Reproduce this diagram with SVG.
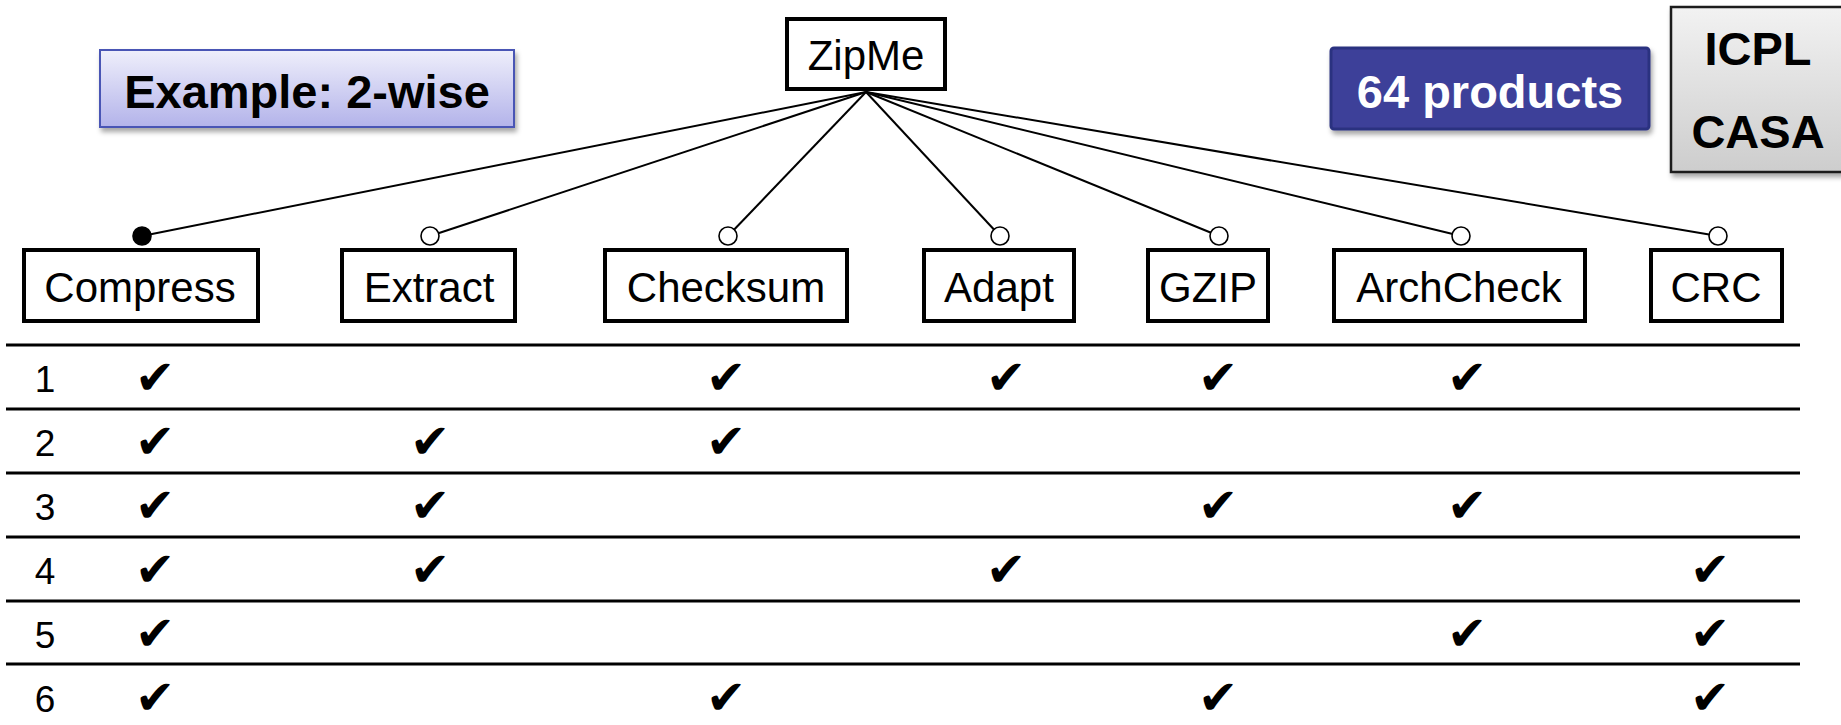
<svg xmlns="http://www.w3.org/2000/svg" width="1841" height="725" viewBox="0 0 1841 725">
<defs>
<linearGradient id="gBlue" x1="0" y1="0" x2="0" y2="1">
<stop offset="0" stop-color="#efeffb"/>
<stop offset="1" stop-color="#b3b3ea"/>
</linearGradient>
<linearGradient id="gGray" x1="0" y1="0" x2="0" y2="1">
<stop offset="0" stop-color="#f2f2f2"/>
<stop offset="1" stop-color="#cdcdcd"/>
</linearGradient>
<filter id="shadow" x="-10%" y="-10%" width="130%" height="140%">
<feDropShadow dx="2" dy="4" stdDeviation="2.5" flood-color="#000" flood-opacity="0.35"/>
</filter>
<style>
.feat rect{fill:#fff;stroke:#000;stroke-width:4}
.feat text{font-family:"Liberation Sans",Arial,sans-serif;font-size:42px;fill:#000;text-anchor:middle}
.conn line{stroke:#000;stroke-width:2}
.opt{fill:#fff;stroke:#000;stroke-width:1.6}
.man{fill:#000;stroke:#000;stroke-width:1.6}
.rule{stroke:#000;stroke-width:3}
.num{font-family:"Liberation Sans",Arial,sans-serif;font-size:37px;fill:#000;text-anchor:middle}
.chk{font-family:"DejaVu Sans",sans-serif;font-size:48px;fill:#000;text-anchor:middle}
.bold{font-family:"Liberation Sans",Arial,sans-serif;font-weight:bold;font-size:47px;text-anchor:middle}
</style>
</defs>
<rect width="1841" height="725" fill="#fff"/>

<g id="example-label">
<rect x="100" y="50" width="414" height="77" fill="url(#gBlue)" stroke="#4a55b5" stroke-width="2" filter="url(#shadow)"/>
<text class="bold" x="307" y="108" fill="#000">Example: 2-wise</text>
</g>

<g id="products-label">
<rect x="1331" y="48" width="318" height="81" rx="3" fill="#3c4199" stroke="#2c3080" stroke-width="3" filter="url(#shadow)"/>
<text class="bold" x="1490" y="108" fill="#fff">64 products</text>
</g>

<g id="tools-label">
<rect x="1671" y="7" width="180" height="165" fill="url(#gGray)" stroke="#1a1a1a" stroke-width="2.5" filter="url(#shadow)"/>
<text class="bold" x="1758" y="65" fill="#000">ICPL</text>
<text class="bold" x="1758" y="148" fill="#000">CASA</text>
</g>

<g id="connectors" class="conn">
<line x1="866" y1="92" x2="142" y2="236"/>
<line x1="866" y1="92" x2="430" y2="236"/>
<line x1="866" y1="92" x2="728" y2="236"/>
<line x1="866" y1="92" x2="1000" y2="236"/>
<line x1="866" y1="92" x2="1219" y2="236"/>
<line x1="866" y1="92" x2="1461" y2="236"/>
<line x1="866" y1="92" x2="1718" y2="236"/>
<circle class="man" cx="142" cy="236" r="9"/>
<circle class="opt" cx="430" cy="236" r="9"/>
<circle class="opt" cx="728" cy="236" r="9"/>
<circle class="opt" cx="1000" cy="236" r="9"/>
<circle class="opt" cx="1219" cy="236" r="9"/>
<circle class="opt" cx="1461" cy="236" r="9"/>
<circle class="opt" cx="1718" cy="236" r="9"/>
</g>

<g id="ZipMe" class="feat"><rect x="787" y="19" width="158" height="70"/><text x="866" y="70">ZipMe</text></g>
<g id="Compress" class="feat"><rect x="24" y="250" width="234" height="71"/><text x="140" y="302">Compress</text></g>
<g id="Extract" class="feat"><rect x="342" y="250" width="173" height="71"/><text x="429" y="302">Extract</text></g>
<g id="Checksum" class="feat"><rect x="605" y="250" width="242" height="71"/><text x="726" y="302">Checksum</text></g>
<g id="Adapt" class="feat"><rect x="924" y="250" width="150" height="71"/><text x="999" y="302">Adapt</text></g>
<g id="GZIP" class="feat"><rect x="1148" y="250" width="120" height="71"/><text x="1208" y="302">GZIP</text></g>
<g id="ArchCheck" class="feat"><rect x="1334" y="250" width="251" height="71"/><text x="1459" y="302">ArchCheck</text></g>
<g id="CRC" class="feat"><rect x="1651" y="250" width="131" height="71"/><text x="1716" y="302">CRC</text></g>

<g id="table">
<line class="rule" x1="6" y1="345" x2="1800" y2="345"/>
<line class="rule" x1="6" y1="409" x2="1800" y2="409"/>
<line class="rule" x1="6" y1="473" x2="1800" y2="473"/>
<line class="rule" x1="6" y1="537" x2="1800" y2="537"/>
<line class="rule" x1="6" y1="601" x2="1800" y2="601"/>
<line class="rule" x1="6" y1="664" x2="1800" y2="664"/>
<text class="num" x="45" y="392">1</text>
<text class="num" x="45" y="456">2</text>
<text class="num" x="45" y="520">3</text>
<text class="num" x="45" y="584">4</text>
<text class="num" x="45" y="648">5</text>
<text class="num" x="45" y="712">6</text>
<g id="row1"><text class="chk" x="155" y="394">✔</text><text class="chk" x="726" y="394">✔</text><text class="chk" x="1006" y="394">✔</text><text class="chk" x="1218" y="394">✔</text><text class="chk" x="1467" y="394">✔</text></g>
<g id="row2"><text class="chk" x="155" y="458">✔</text><text class="chk" x="430" y="458">✔</text><text class="chk" x="726" y="458">✔</text></g>
<g id="row3"><text class="chk" x="155" y="522">✔</text><text class="chk" x="430" y="522">✔</text><text class="chk" x="1218" y="522">✔</text><text class="chk" x="1467" y="522">✔</text></g>
<g id="row4"><text class="chk" x="155" y="586">✔</text><text class="chk" x="430" y="586">✔</text><text class="chk" x="1006" y="586">✔</text><text class="chk" x="1710" y="586">✔</text></g>
<g id="row5"><text class="chk" x="155" y="650">✔</text><text class="chk" x="1467" y="650">✔</text><text class="chk" x="1710" y="650">✔</text></g>
<g id="row6"><text class="chk" x="155" y="714">✔</text><text class="chk" x="726" y="714">✔</text><text class="chk" x="1218" y="714">✔</text><text class="chk" x="1710" y="714">✔</text></g>
</g>
</svg>
